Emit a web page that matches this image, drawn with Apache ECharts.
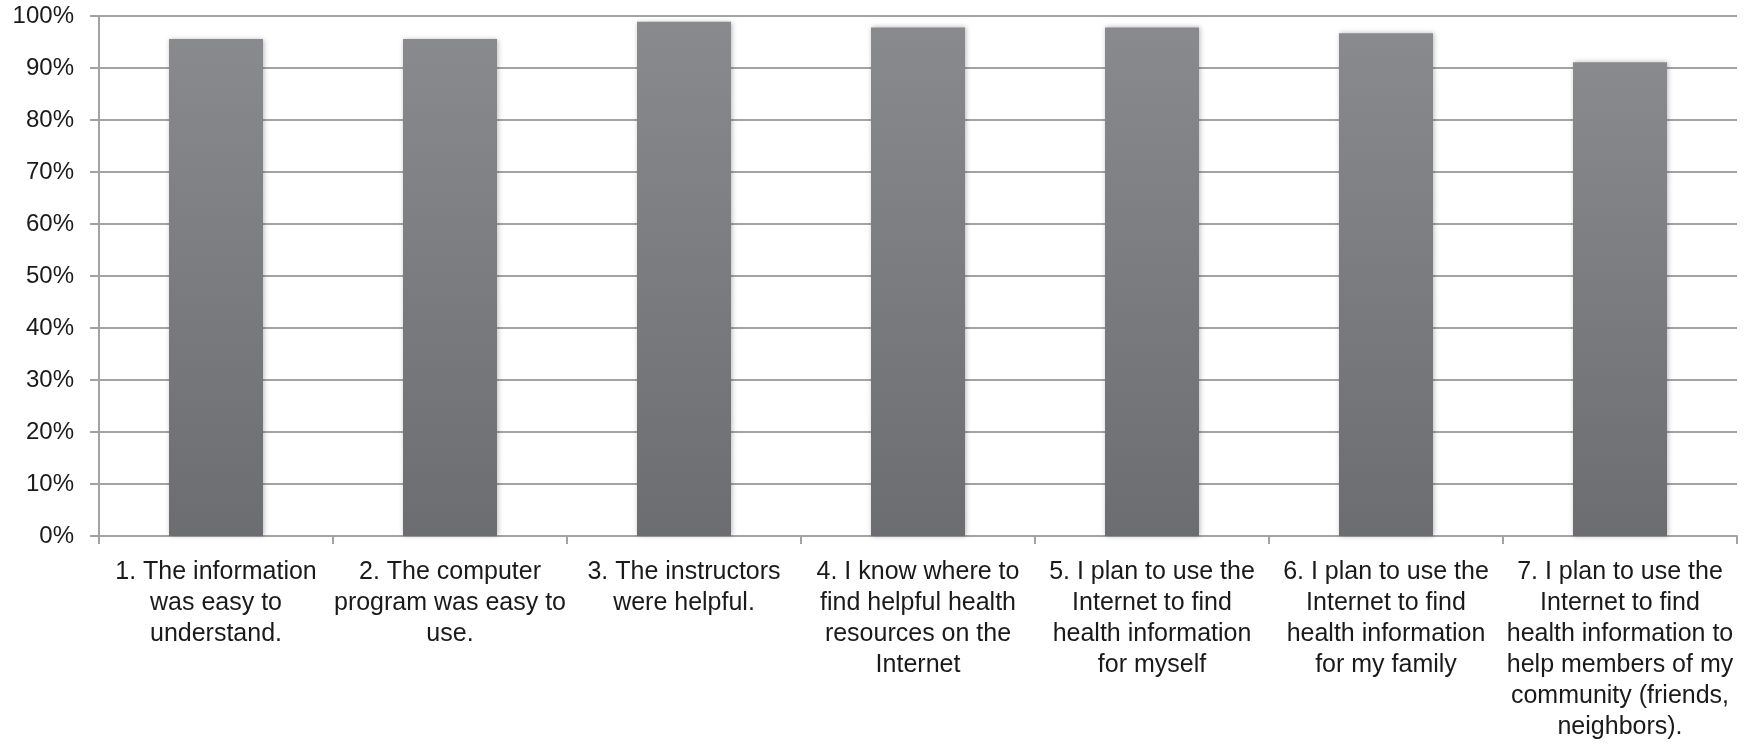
<!DOCTYPE html>
<html>
<head>
<meta charset="utf-8">
<title>Workshop evaluation</title>
<script src="https://cdn.jsdelivr.net/npm/echarts@6/dist/echarts.min.js"></script>
<style>
  html, body { margin: 0; padding: 0; background: #ffffff; }
  #chart { width: 1754px; height: 744px; }
</style>
</head>
<body>
<div id="chart"></div>
<script>
// Survey statements (line breaks as they wrap under each bar)
const categories = [
  '1. The information\nwas easy to\nunderstand.',
  '2. The computer\nprogram was easy to\nuse.',
  '3. The instructors\nwere helpful.',
  '4. I know where to\nfind helpful health\nresources on the\nInternet',
  '5. I plan to use the\nInternet to find\nhealth information\nfor myself',
  '6. I plan to use the\nInternet to find\nhealth information\nfor my family',
  '7. I plan to use the\nInternet to find\nhealth information to\nhelp members of my\ncommunity (friends,\nneighbors).'
];

// Share of participants who agreed (%)
const agreePct = [95.6, 95.6, 98.9, 97.8, 97.8, 96.7, 91.1];

// Value axis ticks
const yMin = 0;
const yMax = 100;
const yStep = 10;

const chart = echarts.init(document.getElementById('chart'), null, { renderer: 'canvas' });

const axisGray = '#a3a3a3';
const fontFamily = '"Liberation Sans", Arial, sans-serif';

chart.setOption({
  animation: false,
  backgroundColor: '#ffffff',
  grid: { left: 99, right: 17, top: 16, bottom: 208, containLabel: false },
  xAxis: {
    type: 'category',
    data: categories,
    boundaryGap: true,
    axisLine: { show: true, lineStyle: { color: axisGray, width: 2 } },
    axisTick: { show: true, alignWithLabel: false, length: 8, lineStyle: { color: axisGray, width: 2 } },
    axisLabel: {
      interval: 0,
      margin: 21,
      color: '#1a1a1a',
      fontSize: 25,
      lineHeight: 31,
      fontFamily: fontFamily,
      align: 'center'
    },
    splitLine: { show: false }
  },
  yAxis: {
    type: 'value',
    min: yMin,
    max: yMax,
    interval: yStep,
    axisLine: { show: true, lineStyle: { color: axisGray, width: 2 } },
    axisTick: { show: true, length: 9, lineStyle: { color: axisGray, width: 2 } },
    axisLabel: {
      margin: 25,
      color: '#1a1a1a',
      fontSize: 24,
      fontFamily: fontFamily,
      padding: [10, 0, 0, 0],
      formatter: v => v + '%'
    },
    splitLine: { show: true, lineStyle: { color: axisGray, width: 2 } }
  },
  series: [{
    type: 'bar',
    data: agreePct,
    barWidth: 94,
    itemStyle: {
      color: new echarts.graphic.LinearGradient(0, 0, 0, 1, [
        { offset: 0, color: '#898a8d' },
        { offset: 1, color: '#6c6d70' }
      ]),
      shadowColor: 'rgba(0,0,0,0.28)',
      shadowBlur: 5,
      shadowOffsetX: 1,
      shadowOffsetY: 0
    },
    emphasis: { disabled: true }
  }]
});
</script>
</body>
</html>
